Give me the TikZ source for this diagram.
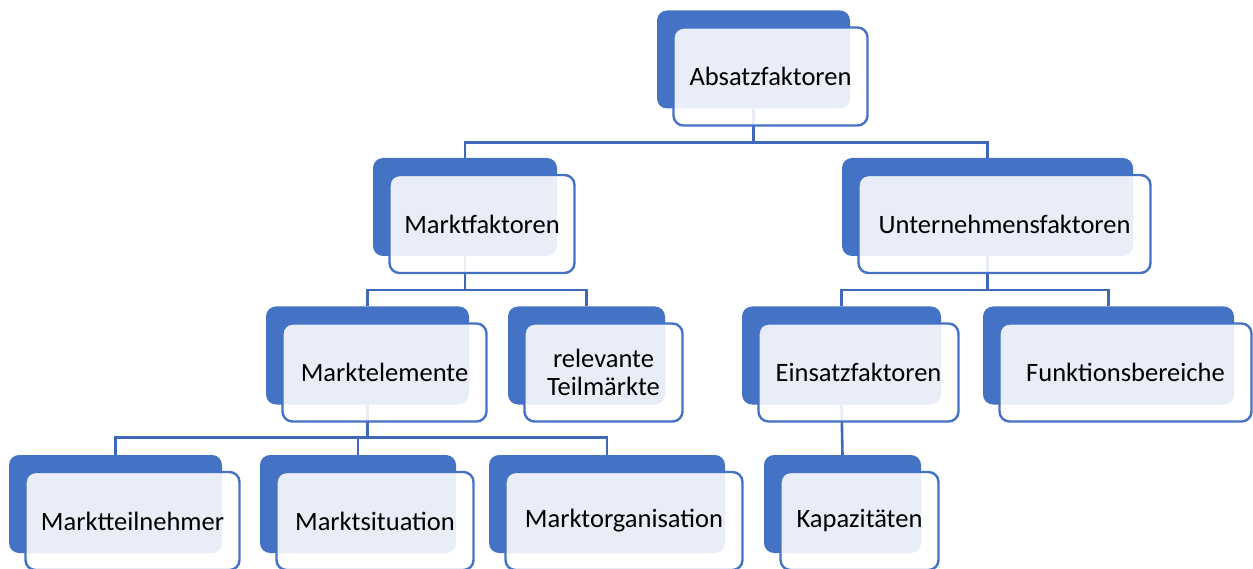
\documentclass[tikz,border=0pt]{standalone}
\usepackage{fontspec}
\setmainfont{Carlito}
\definecolor{blockblue}{HTML}{4472C4}
\definecolor{linkblue}{HTML}{4068B8}
\tikzset{
  backbox/.style={rectangle, rounded corners=10pt, fill=blockblue, minimum height=98pt, inner sep=0pt},
  frontbox/.style={rectangle, rounded corners=10pt, draw=blockblue, line width=2.4pt, fill=white, fill opacity=0.88, text opacity=1, minimum height=98pt, inner sep=0pt, align=center, font=\fontsize{26.5}{28}\selectfont},
  link/.style={draw=linkblue, line width=2.6pt}
}
\begin{document}
\begin{tikzpicture}[x=1pt,y=-1pt]
        \useasboundingbox (0,0) rectangle (1253,569);
        % back blocks
        \node[backbox, minimum width=193pt] (b-absatz) at (753.5,59.5) {};
        \node[backbox, minimum width=184pt] (b-markt) at (465,207) {};
        \node[backbox, minimum width=291pt] (b-untern) at (987.5,207) {};
        \node[backbox, minimum width=203pt] (b-elem) at (367.5,355.5) {};
        \node[backbox, minimum width=157pt] (b-teil) at (586.5,355.5) {};
        \node[backbox, minimum width=199pt] (b-einsatz) at (841.5,355.5) {};
        \node[backbox, minimum width=251pt] (b-funktion) at (1108.5,355.5) {};
        \node[backbox, minimum width=213pt] (b-teiln) at (115.5,504) {};
        \node[backbox, minimum width=196pt] (b-situation) at (358,504) {};
        \node[backbox, minimum width=236pt] (b-organisation) at (607,504) {};
        \node[backbox, minimum width=157pt] (b-kapaz) at (842.5,504) {};

        % connectors
        \draw[link] (b-absatz.south) -- ++(0,34) -| (b-markt.north);
        \draw[link] (b-absatz.south) -- ++(0,34) -| (b-untern.north);
        \draw[link] (b-markt.south) -- ++(0,34) -| (b-elem.north);
        \draw[link] (b-markt.south) -- ++(0,34) -| (b-teil.north);
        \draw[link] (b-untern.south) -- ++(0,34) -| (b-einsatz.north);
        \draw[link] (b-untern.south) -- ++(0,34) -| (b-funktion.north);
        \draw[link] (b-elem.south) -- ++(0,33) -| (b-teiln.north);
        \draw[link] (b-elem.south) -- ++(0,33) -| (b-situation.north);
        \draw[link] (b-elem.south) -- ++(0,33) -| (b-organisation.north);
        \draw[link] (b-einsatz.south) -- (b-kapaz.north);

        % front blocks
        \node[frontbox, minimum width=194pt] (absatz) at ([shift={(17,17)}]b-absatz.center) {Absatzfaktoren};
        \node[frontbox, minimum width=185pt] (markt) at ([shift={(17,17)}]b-markt.center) {Marktfaktoren};
        \node[frontbox, minimum width=292pt] (untern) at ([shift={(17,17)}]b-untern.center) {Unternehmensfaktoren};
        \node[frontbox, minimum width=204pt] (elem) at ([shift={(17,17)}]b-elem.center) {Marktelemente};
        \node[frontbox, minimum width=158pt] (teil) at ([shift={(17,17)}]b-teil.center) {relevante\\Teilmärkte};
        \node[frontbox, minimum width=200pt] (einsatz) at ([shift={(17,17)}]b-einsatz.center) {Einsatzfaktoren};
        \node[frontbox, minimum width=252pt] (funktion) at ([shift={(17,17)}]b-funktion.center) {Funktionsbereiche};
        \node[frontbox, minimum width=214pt] (teiln) at ([shift={(17,17)}]b-teiln.center) {Marktteilnehmer};
        \node[frontbox, minimum width=197pt] (situation) at ([shift={(17,17)}]b-situation.center) {Marktsituation};
        \node[frontbox, minimum width=237pt] (organisation) at ([shift={(17,17)}]b-organisation.center) {Marktorganisation};
        \node[frontbox, minimum width=158pt] (kapaz) at ([shift={(17,17)}]b-kapaz.center) {Kapazitäten};
\end{tikzpicture}
\end{document}
